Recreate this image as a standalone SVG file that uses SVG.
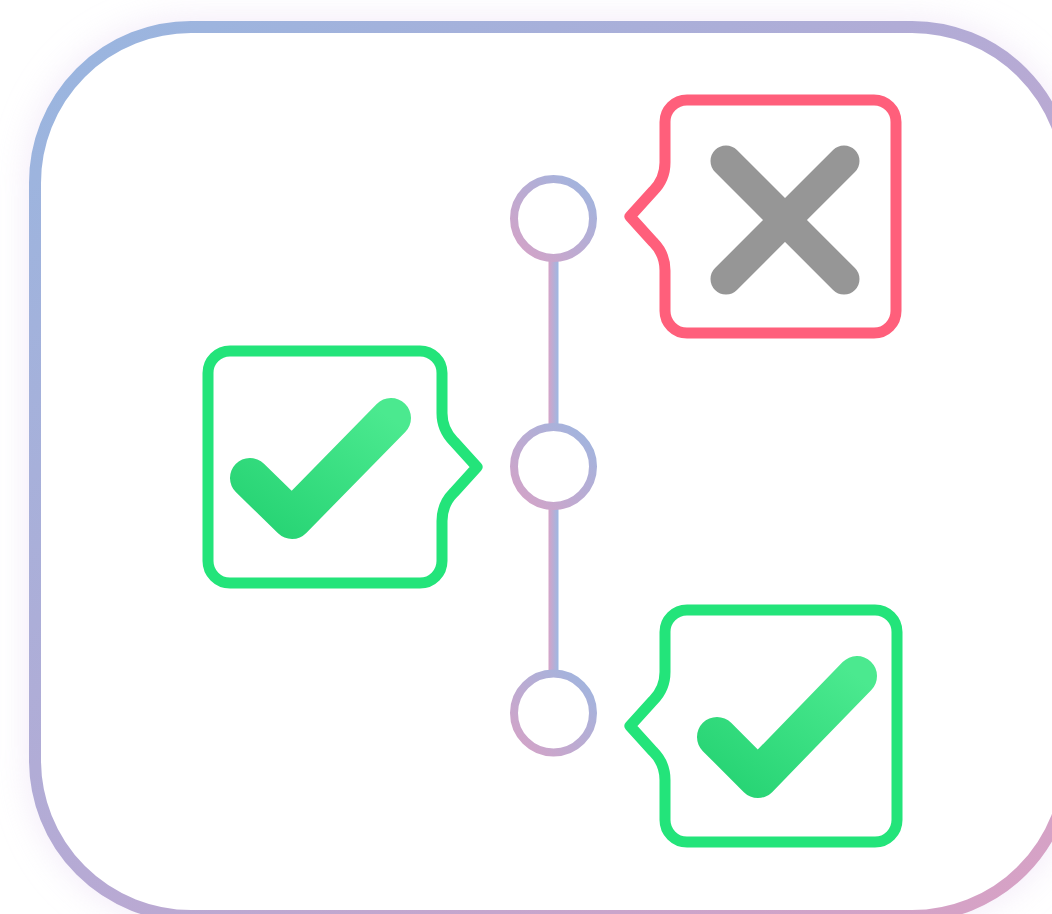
<svg xmlns="http://www.w3.org/2000/svg" width="1052" height="914" viewBox="0 0 1052 914">
  <defs>
    <linearGradient id="frameGrad" x1="0" y1="0" x2="1" y2="1">
      <stop offset="0" stop-color="#98b6e0"/>
      <stop offset="0.5" stop-color="#b6aad4"/>
      <stop offset="1" stop-color="#d9a1c4"/>
    </linearGradient>
    <linearGradient id="ringGrad" x1="1" y1="0" x2="0" y2="1">
      <stop offset="0" stop-color="#9db6e0"/>
      <stop offset="1" stop-color="#d6a2c6"/>
    </linearGradient>
    <linearGradient id="lineGrad" gradientUnits="userSpaceOnUse" x1="548" y1="0" x2="559" y2="0">
      <stop offset="0" stop-color="#d8a2c6"/>
      <stop offset="1" stop-color="#9ab9e4"/>
    </linearGradient>
    <linearGradient id="checkGrad" x1="0" y1="1" x2="1" y2="0">
      <stop offset="0" stop-color="#27d474"/>
      <stop offset="1" stop-color="#4be98f"/>
    </linearGradient>
    <filter id="glow" x="-20%" y="-20%" width="140%" height="140%">
      <feGaussianBlur stdDeviation="18"/>
    </filter>
    <style>
      .frame { fill: #ffffff; stroke: url(#frameGrad); stroke-width: 12; }
      .ring { fill: #ffffff; stroke: url(#ringGrad); stroke-width: 8; }
      .stem { stroke: url(#lineGrad); stroke-width: 10; fill: none; }
      .box { fill: #ffffff; stroke-width: 11; stroke-linejoin: round; }
      .ok { stroke: #23e47a; }
      .bad { stroke: #ff5f7b; }
      .check { fill: none; stroke: url(#checkGrad); stroke-width: 40; stroke-linecap: round; stroke-linejoin: round; }
      .cross { fill: none; stroke: #969696; stroke-width: 31; stroke-linecap: round; }
    </style>
  </defs>

  <rect width="1052" height="914" fill="#ffffff"/>
  <rect x="30" y="22" width="1043" height="899" rx="160" fill="#e6d6f2" opacity="0.55" filter="url(#glow)"/>

  <g id="frame">
    <rect class="frame" x="35" y="27" width="1033" height="889" rx="156"/>
  </g>

  <g id="connectors">
    <line class="stem" x1="553.5" y1="258" x2="553.5" y2="428"/>
    <line class="stem" x1="553.5" y1="505" x2="553.5" y2="675"/>
  </g>

  <g id="step1">
    <circle class="ring" cx="553.5" cy="218.5" r="39.5"/>
  </g>
  <g id="step2">
    <circle class="ring" cx="553.5" cy="466.5" r="39.5"/>
  </g>
  <g id="step3">
    <circle class="ring" cx="553.5" cy="713" r="39.5"/>
  </g>

  <g id="result-fail">
    <path class="box bad" d="M687,100 H874 A22,22 0 0 1 896,122 V311 A22,22 0 0 1 874,333 H687 A22,22 0 0 1 665,311 V270.5 A40,40 0 0 0 653.3,242.2 L630,216.5 L653.3,190.8 A40,40 0 0 0 665,162.5 V122 A22,22 0 0 1 687,100 Z"/>
    <path class="cross" d="M726,161 L844,279 M844,161 L726,279"/>
  </g>

  <g id="result-pass-left">
    <path class="box ok" d="M230,351 H420 A22,22 0 0 1 442,373 V413 A40,40 0 0 0 453.7,441.3 L477,467 L453.7,492.7 A40,40 0 0 0 442,521 V561 A22,22 0 0 1 420,583 H230 A22,22 0 0 1 208,561 V373 A22,22 0 0 1 230,351 Z"/>
    <path class="check" d="M250,478 L292,519 L391,418"/>
  </g>

  <g id="result-pass-right">
    <path class="box ok" d="M687,610 H875 A22,22 0 0 1 897,632 V820 A22,22 0 0 1 875,842 H687 A22,22 0 0 1 665,820 V780 A40,40 0 0 0 653.3,751.7 L630,726 L653.3,700.3 A40,40 0 0 0 665,672 V632 A22,22 0 0 1 687,610 Z"/>
    <path class="check" d="M717,737 L758,778 L857,676"/>
  </g>
</svg>
